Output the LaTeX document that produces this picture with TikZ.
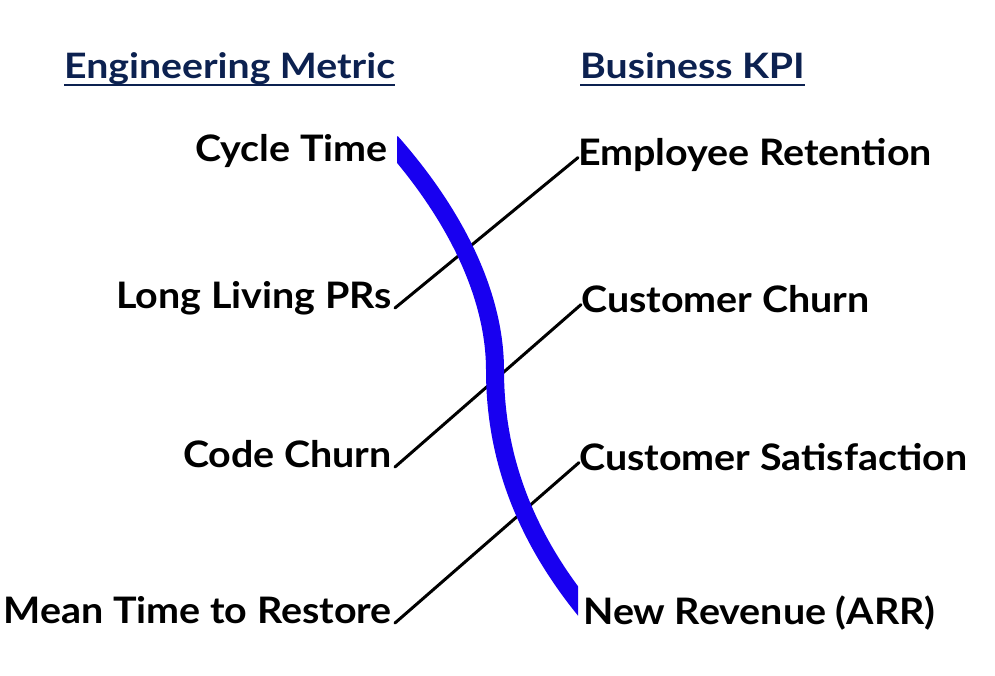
\documentclass[tikz,border=0pt]{standalone}
\usepackage{fontspec}
\setmainfont{Lato}[FakeStretch=1.08]
\newfontfamily\headfont{Lato}[FakeStretch=1.12]
\usepackage{tikz}
\usetikzlibrary{positioning, calc}
\definecolor{navy}{RGB}{12,33,80}
\definecolor{bar}{RGB}{24,0,240}
\tikzstyle{metric}=[font=\fontsize{36.5}{40}\selectfont\bfseries, inner sep=0pt, text height=0.72em, text depth=0.2em]
\tikzstyle{head}=[font=\headfont\fontsize{35}{38}\selectfont\bfseries, text=navy, inner sep=0pt, text height=0.72em, text depth=0.2em]
\tikzstyle{link}=[line width=3pt, line cap=round]

\begin{document}
\begin{tikzpicture}[x=1pt, y=-1pt]
	\useasboundingbox (0,0) rectangle (995,675);

	\node[head, anchor=base west] (eng) at (64,78) {Engineering Metric};
	\node[head, anchor=base west] (biz) at (580,78) {Business KPI};
	\draw[navy, line width=2pt] ([yshift=-7pt]eng.base west) -- ([yshift=-7pt]eng.base east);
	\draw[navy, line width=2pt] ([yshift=-7pt]biz.base west) -- ([yshift=-7pt]biz.base east);

	\node[metric, anchor=base east] (ct) at (388,161) {Cycle Time};
	\node[metric, anchor=base east] (llp) at (392,308) {Long Living PRs};
	\node[metric, anchor=base east] (cc) at (392,467) {Code Churn};
	\node[metric, anchor=base east] (mttr) at (392,623) {Mean Time to Restore};

	\node[metric, anchor=base west] (er) at (578,165) {Employee Retention};
	\node[metric, anchor=base west] (cuc) at (581,312) {Customer Churn};
	\node[metric, anchor=base west] (cs) at (579,470) {Customer Satisfaction};
	\node[metric, anchor=base west] (nr) at (583,624) {New Revenue (ARR)};

	\draw[link] (llp.base east) ++(3,0) -- (er.north west);
	\draw[link] (cc.base east) ++(3,0) -- (cuc.north west);
	\draw[link] (mttr.base east) ++(3,0) -- (cs.north west);

	\begin{scope}
		\clip (397,100) rectangle (578,650);
		\draw[bar, line width=18pt] (391,142) .. controls (460,220) and (495,300) .. (495,370) .. controls (495,450) and (520,530) .. (585,610);
	\end{scope}

\end{tikzpicture}
\end{document}
